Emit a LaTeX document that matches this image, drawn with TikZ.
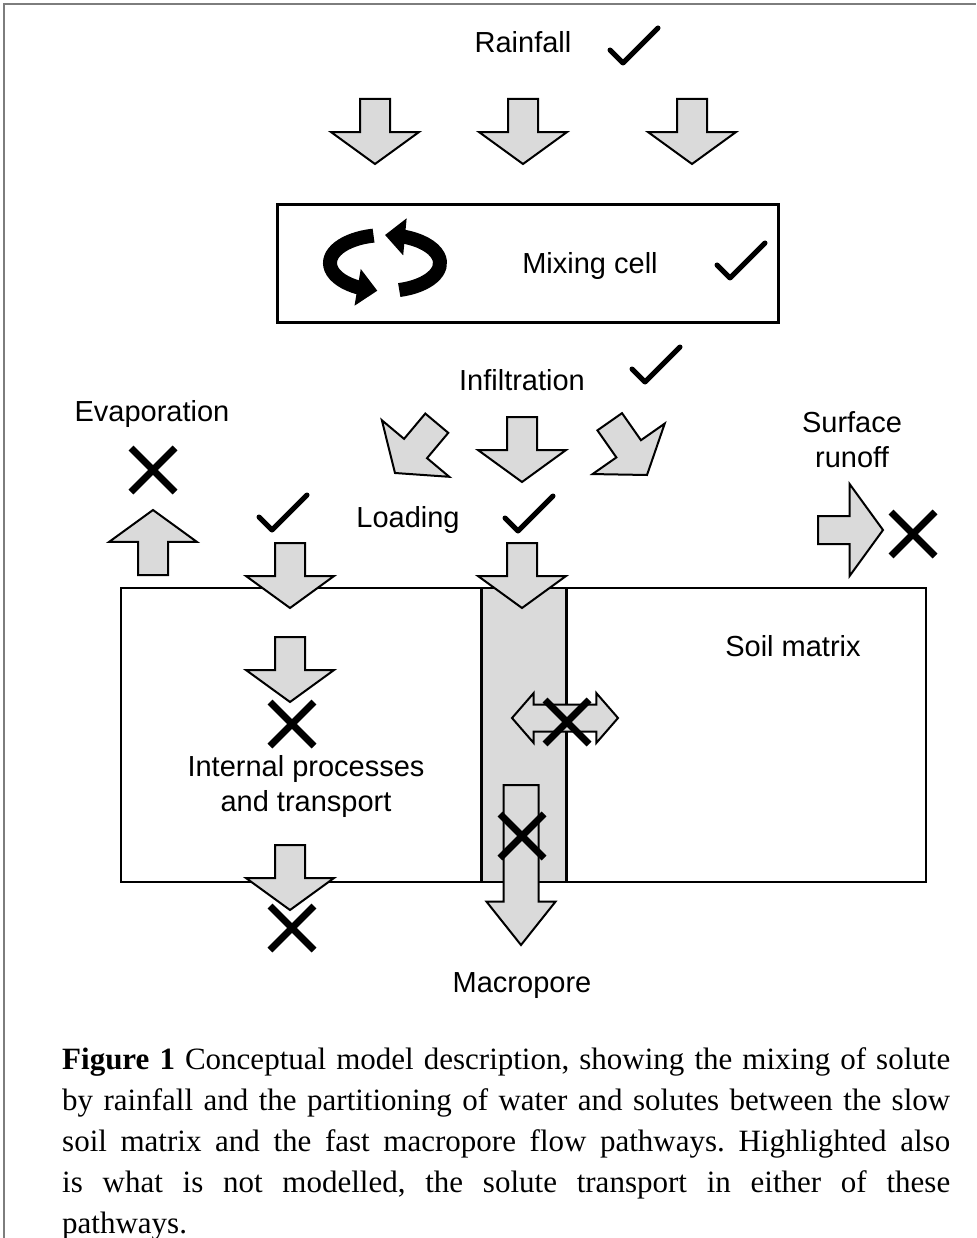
\documentclass[tikz,border=0pt]{standalone}
\usepackage{fontspec}
\setmainfont{Liberation Serif}
\newfontfamily\sansfont{Liberation Sans}
\usetikzlibrary{shapes.arrows,arrows.meta,bending}

\definecolor{flowgrey}{RGB}{218,218,218}
\definecolor{framegrey}{RGB}{125,125,125}

\tikzset{
  lbl/.style={font=\sansfont\fontsize{29}{35}\selectfont, inner sep=0pt, align=center},
  flowarrow/.style={single arrow, draw, fill=flowgrey, line width=2pt,
    inner xsep=0pt, inner ysep=14pt, outer sep=0pt, minimum height=65pt,
    single arrow head extend=29pt, single arrow tip angle=108, anchor=tip},
  okmark/.pic={\draw[line width=5pt, line cap=round, line join=round]
    (-24,-5) -- (-11,-18) -- (24,17);},
  nomark/.pic={\draw[line width=7pt]
    (-22,22) -- (22,-22) (-22,-22) -- (22,22);}
}

\begin{document}
\begin{tikzpicture}[x=1pt,y=1pt,line join=miter]
  \useasboundingbox (0,0) rectangle (976,-1238);
  \draw[framegrey, line width=1.5pt] (4,-1238) -- (4,-4) -- (976,-4);

  % rainfall
  \node[lbl] (rain) at (523,-42) {Rainfall};
  \pic at (634,-45) {okmark};
  \foreach \xx/\nm in {375/rainA, 523/rainB, 692/rainC}
    \node[flowarrow, rotate=-90] (\nm) at (\xx,-164) {};

  % mixing cell with the stirring symbol
  \node[draw, line width=3pt, inner sep=0pt, minimum width=501pt, minimum height=117pt]
    (mix) at (527.5,-263.5) {};
  \coordinate (stir) at (385,-263);
  \draw[line width=14pt, -{Triangle[width=36pt,length=20pt]}]
    ([shift={(102:55pt and 28pt)}]stir) arc[start angle=102, end angle=262, x radius=55pt, y radius=28pt];
  \draw[line width=14pt, -{Triangle[width=36pt,length=20pt]}]
    ([shift={(-75:55pt and 28pt)}]stir) arc[start angle=-75, end angle=90, x radius=55pt, y radius=28pt];
  \node[lbl] (mixlbl) at (590,-266) {Mixing cell};
  \pic at (741,-260) {okmark};

  % infiltration
  \node[lbl] (infil) at (522,-380) {Infiltration};
  \pic at (656,-364) {okmark};
  \node[flowarrow, rotate=230] (infA) at (395,-473) {};
  \node[flowarrow, rotate=-90] (infB) at (522,-482) {};
  \node[flowarrow, rotate=-55] (infC) at (647,-475) {};

  % evaporation and surface runoff
  \node[lbl] (evap) at (152,-414) {Evaporation};
  \pic at (153,-470) {nomark};
  \node[flowarrow, rotate=90] (evapup) at (153,-510) {};
  \node[lbl] (runoff) at (852,-440) {Surface\\runoff};
  \node[flowarrow, inner ysep=13pt, single arrow head extend=32pt] (runright) at (883,-530) {};
  \pic at (913,-534) {nomark};

  % soil matrix and macropore
  \node[fill=flowgrey, inner sep=0pt, minimum width=84pt, minimum height=294pt]
    (pore) at (524,-735) {};
  \node[draw, line width=2.5pt, inner sep=0pt, minimum width=805pt, minimum height=294pt]
    (soil) at (523.5,-735) {};
  \draw[line width=3pt] (pore.north west) -- (pore.south west)
    (pore.north east) -- (pore.south east);
  \node[lbl] (soillbl) at (793,-646) {Soil matrix};

  % loading
  \node[lbl] (load) at (408,-520) {Loading};
  \pic at (283,-512) {okmark};
  \pic at (529,-513) {okmark};
  \node[flowarrow, rotate=-90] (loadA) at (290,-608) {};
  \node[flowarrow, rotate=-90] (loadB) at (522,-608) {};

  % matrix transport
  \node[flowarrow, rotate=-90] (inner) at (290,-702) {};
  \pic at (292,-724) {nomark};
  \node[lbl] (proc) at (306,-786) {Internal processes\\and transport};
  \node[flowarrow, rotate=-90] (drain) at (290,-910) {};
  \pic at (292,-928) {nomark};

  % exchange and macropore flow
  \node[double arrow, draw, fill=flowgrey, line width=2pt, inner xsep=0pt, inner ysep=12.5pt,
    minimum height=106pt, double arrow head extend=11.5pt,
    double arrow tip angle=98] (swap) at (565,-718) {};
  \pic at (567,-722) {nomark};
  \node[flowarrow, rotate=-90, inner ysep=16.5pt, minimum height=160pt,
    single arrow head extend=17pt, single arrow tip angle=77] (poreflow) at (521,-945) {};
  \pic at (522,-836) {nomark};
  \node[lbl] (porelbl) at (522,-986) {Macropore};

  % caption
  \node[anchor=north west, inner sep=0pt, text width=888pt, align=justify,
    font=\fontsize{31}{41}\selectfont\frenchspacing] (caption) at (62,-1047)
    {\textbf{Figure 1} Conceptual model description, showing the mixing of solute\linebreak
     by rainfall and the partitioning of water and solutes between the slow\linebreak
     soil matrix and the fast macropore flow pathways. Highlighted also\linebreak
     is what is not modelled, the solute transport in either of these\linebreak
     pathways.};
\end{tikzpicture}
\end{document}
